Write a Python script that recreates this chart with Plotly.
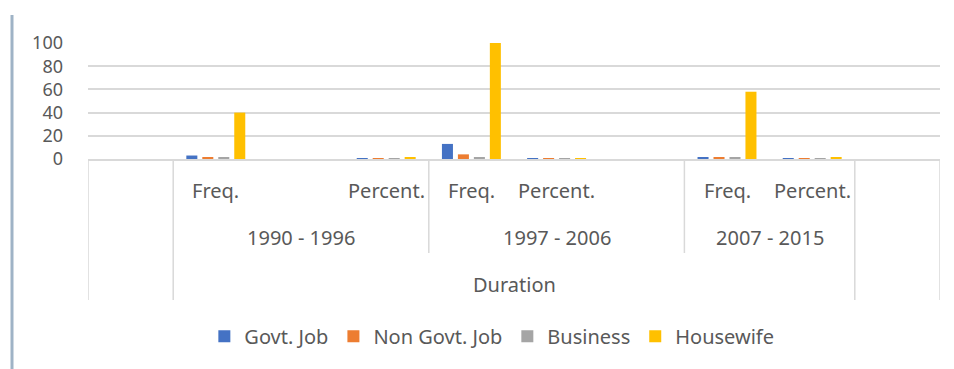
import plotly.graph_objects as go

# ---- data -------------------------------------------------------------
periods = ["1990 - 1996", "1997 - 2006", "2007 - 2015"]
measures = ["Freq.", "Percent."]

# one value per (period, measure), in the order of periods x measures
govt_job = [3, 0.07, 13, 0.11, 1, 0.02]
non_govt_job = [1, 0.02, 4, 0.03, 1, 0.02]
business = [1, 0.02, 1, 0.01, 1, 0.02]
housewife = [40, 0.89, 100, 0.85, 58, 0.95]

series_names = ["Govt. Job", "Non Govt. Job", "Business", "Housewife"]
series_colors = ["#4472C4", "#ED7D31", "#A5A5A5", "#FFC000"]

y_ticks = [0, 20, 40, 60, 80, 100]
top_level = "Duration"

# ---- category layout (blank slots keep the worksheet spacing) ---------
# each entry: (period, measure) or None for an empty column
slots = [
    None,
    ("1990 - 1996", "Freq."), ("1990 - 1996", None), ("1990 - 1996", "Percent."),
    ("1997 - 2006", "Freq."), ("1997 - 2006", "Percent."), ("1997 - 2006", None),
    ("2007 - 2015", "Freq."), ("2007 - 2015", "Percent."),
    None,
]


def slot_id(i, s):
    if s is None or s[1] is None:
        return f"_blank{i}"
    return f"{s[0]}|{s[1]}"


category_order = [slot_id(i, s) for i, s in enumerate(slots)]
data_ids = [f"{p}|{m}" for p in periods for m in measures]

TEXT = "#595959"
GRID = "#D9D9D9"
FONT = "Noto Sans"

fig = go.Figure()
for name, color, vals in zip(series_names, series_colors,
                             [govt_job, non_govt_job, business, housewife]):
    fig.add_trace(go.Bar(x=data_ids, y=vals, name=name,
                         marker=dict(color=color, line=dict(width=0))))

annotations = []
shapes = []

# first row: measure labels
for i, s in enumerate(slots):
    if s is not None and s[1] is not None:
        annotations.append(dict(x=i, y=0, xref="x", yref="paper", text=s[1],
                                showarrow=False, yanchor="middle", yshift=-31,
                                font=dict(size=20, color=TEXT, family=FONT)))

# second row: period labels, with dividers between periods
group_bounds = []
for p in periods:
    idx = [i for i, s in enumerate(slots) if s is not None and s[0] == p]
    group_bounds.append((min(idx), max(idx)))
    annotations.append(dict(x=(min(idx) + max(idx)) / 2, y=0, xref="x", yref="paper",
                            text=p, showarrow=False, yanchor="middle", yshift=-78,
                            font=dict(size=20, color=TEXT, family=FONT)))

first = group_bounds[0][0]
last = group_bounds[-1][1]
annotations.append(dict(x=(first + last) / 2, y=0, xref="x", yref="paper",
                        text=top_level, showarrow=False, yanchor="middle", yshift=-125,
                        font=dict(size=20, color=TEXT, family=FONT)))


def divider(xpos, depth):
    return dict(type="line", xref="x", yref="paper", ysizemode="pixel", yanchor=0,
                x0=xpos, x1=xpos, y0=0, y1=-depth,
                line=dict(color=GRID, width=1.5), layer="below")


# inner period boundaries reach the second row; outer ones span all rows
for (a, b), (c, d) in zip(group_bounds[:-1], group_bounds[1:]):
    shapes.append(divider(b + 0.5, 94))
for xpos in [-0.5, first - 0.5, last + 0.5, len(slots) - 0.5]:
    shapes.append(divider(xpos, 141))

# left border of the chart area
shapes.append(dict(type="line", xref="paper", yref="paper",
                   xsizemode="pixel", xanchor=0, ysizemode="pixel", yanchor=1,
                   x0=-76, x1=-76, y0=28, y1=-340,
                   line=dict(color="#9FB3C6", width=3)))

fig.update_layout(
    width=954, height=369,
    margin=dict(l=88, r=14, t=43, b=210),
    paper_bgcolor="white", plot_bgcolor="white",
    barmode="group", bargap=0.25, bargroupgap=0.31,
    font=dict(family=FONT, color=TEXT),
    xaxis=dict(type="category", categoryorder="array", categoryarray=category_order,
               range=[-0.5, len(slots) - 0.5], showticklabels=False, ticks="",
               showgrid=False, showline=True, linecolor=GRID, linewidth=1.5,
               zeroline=False),
    yaxis=dict(range=[0, 100], tickvals=y_ticks, showgrid=True, gridcolor=GRID,
               gridwidth=1.5, zeroline=False, showline=False, ticks="",
               ticklabelstandoff=24,
               tickfont=dict(size=18, color=TEXT, family=FONT)),
    legend=dict(orientation="h", x=0.474, xanchor="center",
                yref="container", y=0.089, yanchor="middle",
                font=dict(size=20, color=TEXT, family=FONT),
                itemwidth=30, traceorder="normal"),
    annotations=annotations,
    shapes=shapes,
    showlegend=True,
)

fig.write_html("out.html")
